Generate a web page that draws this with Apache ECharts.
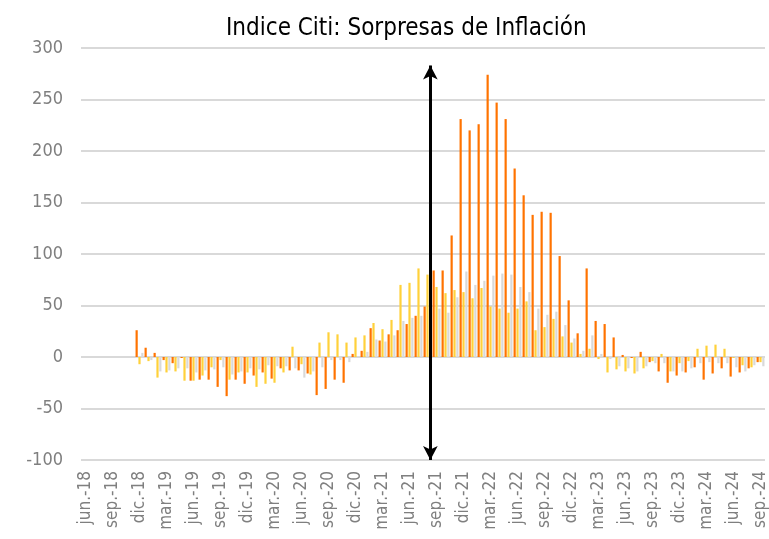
<!DOCTYPE html>
<html>
<head>
<meta charset="utf-8">
<script src="https://cdn.jsdelivr.net/npm/echarts@6/dist/echarts.min.js"></script>
<style>
  html, body { margin: 0; padding: 0; background: #fff; }
  #chart { width: 769px; height: 539px; }
</style>
</head>
<body>
<div id="chart"></div>
<script>
var months = [
  'jun.-18', 'jul.-18', 'ago.-18', 'sep.-18', 'oct.-18', 'nov.-18', 'dic.-18',
  'ene.-19', 'feb.-19', 'mar.-19', 'abr.-19', 'may.-19', 'jun.-19', 'jul.-19', 'ago.-19', 'sep.-19', 'oct.-19', 'nov.-19', 'dic.-19',
  'ene.-20', 'feb.-20', 'mar.-20', 'abr.-20', 'may.-20', 'jun.-20', 'jul.-20', 'ago.-20', 'sep.-20', 'oct.-20', 'nov.-20', 'dic.-20',
  'ene.-21', 'feb.-21', 'mar.-21', 'abr.-21', 'may.-21', 'jun.-21', 'jul.-21', 'ago.-21', 'sep.-21', 'oct.-21', 'nov.-21', 'dic.-21',
  'ene.-22', 'feb.-22', 'mar.-22', 'abr.-22', 'may.-22', 'jun.-22', 'jul.-22', 'ago.-22', 'sep.-22', 'oct.-22', 'nov.-22', 'dic.-22',
  'ene.-23', 'feb.-23', 'mar.-23', 'abr.-23', 'may.-23', 'jun.-23', 'jul.-23', 'ago.-23', 'sep.-23', 'oct.-23', 'nov.-23', 'dic.-23',
  'ene.-24', 'feb.-24', 'mar.-24', 'abr.-24', 'may.-24', 'jun.-24', 'jul.-24', 'ago.-24', 'sep.-24'
];

// orange series
var serieA = [
  null, null, null, null, null, null, 26,
  9, 4, -3, -6, -1, -23, -22, -22, -29, -38, -22, -26,
  -18, -15, -21, -11, -13, -13, -16, -37, -31, -22, -25, 3,
  6, 28, 16, 22, 26, 32, 40, 49, 84, 84, 118, 231,
  220, 226, 274, 247, 231, 183, 157, 138, 141, 140, 98, 55,
  23, 86, 35, 32, 19, 2, -1, 5, -5, -14, -25, -18,
  -15, -10, -22, -16, -11, -19, -15, -11, -5
];

// yellow series
var serieB = [
  null, null, null, null, null, null, -7,
  -4, -20, -15, -14, -23, -23, -18, -10, -3, -22, -15, -15,
  -29, -26, -25, -15, 10, -7, -17, 14, 24, 22, 14, 19,
  21, 33, 27, 36, 70, 72, 86, 80, 68, 62, 65, 63,
  57, 67, 49, 47, 43, 47, 54, 26, 29, 37, 20, 14,
  3, 8, -2, -15, -12, -14, -16, -11, -4, 3, -14, -6,
  -4, 8, 11, 12, 8, -1, -8, -10, -5
];

// gray series
var serieC = [
  null, null, null, null, null, null, 4,
  -3, -14, -13, -11, -11, -15, -13, -12, -10, -17, -14, -11,
  -12, -8, -9, -9, -11, -20, -14, -10, -3, -3, -5, 1,
  5, 17, 15, 21, 35, 38, 40, 45, 47, 43, 58, 83,
  70, 74, 79, 81, 80, 68, 63, 47, 41, 44, 31, 18,
  6, 21, 3, -2, -9, -11, -14, -9, -6, -6, -14, -14,
  -11, -6, -5, -6, -6, -10, -14, -8, -9
];

var yTicks = { min: -100, max: 300, step: 50 };
var arrowMonth = 'ago.-21';
var arrowEnds = [283, -100];

var font = '"Liberation Sans Narrow", "DejaVu Sans Condensed", sans-serif';

var myChart = echarts.init(document.getElementById('chart'));

var option = {
  animation: false,
  title: {
    text: 'Indice Citi: Sorpresas de Inflación',
    left: 221,
    top: 12,
    textStyle: {
      fontFamily: font,
      fontSize: 24,
      fontWeight: 'normal',
      color: '#000'
    }
  },
  grid: {
    left: 81,
    right: 3,
    top: 48,
    bottom: 79
  },
  xAxis: {
    type: 'category',
    data: months,
    axisLine: { show: false },
    axisTick: { show: false },
    axisLabel: {
      rotate: 90,
      interval: 2,
      margin: 11,
      fontFamily: font,
      fontSize: 17,
      color: '#7f7f7f'
    }
  },
  yAxis: {
    type: 'value',
    min: yTicks.min,
    max: yTicks.max,
    interval: yTicks.step,
    axisLine: { show: false },
    axisTick: { show: false },
    axisLabel: {
      margin: 18,
      fontFamily: font,
      fontSize: 18,
      color: '#7f7f7f'
    },
    splitLine: {
      lineStyle: { color: '#d9d9d9', width: 2 }
    }
  },
  series: [
    {
      type: 'bar',
      data: serieA,
      barGap: '30%',
      barCategoryGap: '12%',
      itemStyle: { color: '#ff7300' }
    },
    {
      type: 'bar',
      data: serieB,
      itemStyle: { color: '#ffd13a' }
    },
    {
      type: 'bar',
      data: serieC,
      itemStyle: { color: '#d9d9d9' },
      markLine: {
        silent: true,
        symbol: ['arrow', 'arrow'],
        symbolSize: [11, 14],
        label: { show: false },
        lineStyle: { color: '#000', width: 3, type: 'solid' },
        data: [
          [
            { coord: [arrowMonth, arrowEnds[0]] },
            { coord: [arrowMonth, arrowEnds[1]] }
          ]
        ]
      }
    }
  ]
};

myChart.setOption(option);
</script>
</body>
</html>
